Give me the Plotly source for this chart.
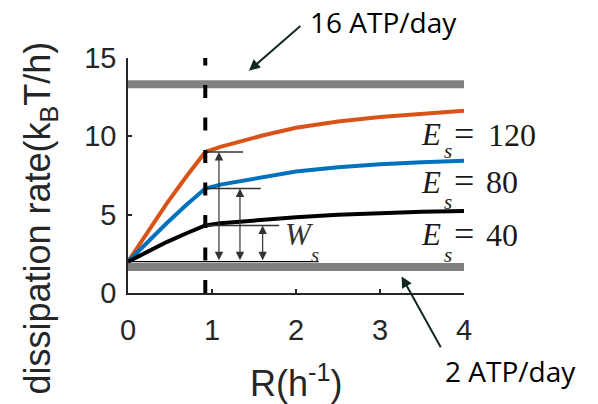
import plotly.graph_objects as go

# Dissipation rate vs. sensing rate R for three values of E_s
R = [0, 0.23, 0.46, 0.69, 0.92, 1.1, 1.33, 1.6, 2.0, 2.5, 3.0, 3.5, 4.0]
rate_E120 = [2.0, 3.9, 5.7, 7.4, 9.0, 9.33, 9.68, 10.05, 10.55, 10.95, 11.24, 11.46, 11.64]
rate_E80 = [2.0, 3.25, 4.45, 5.6, 6.67, 6.92, 7.12, 7.38, 7.75, 8.02, 8.22, 8.34, 8.44]
rate_E40 = [2.0, 2.65, 3.25, 3.8, 4.31, 4.45, 4.56, 4.66, 4.84, 5.0, 5.11, 5.18, 5.23]

KNEE = 4                 # index of the crossover point R*
BASE = 2.0               # dissipation at R = 0
ATP_LOW = 1.667          # 2 ATP/day
ATP_HIGH = 13.33         # 16 ATP/day

x_ticks = [0, 1, 2, 3, 4]
y_ticks = [0, 5, 10, 15]
X_RANGE = [0, 4]
Y_RANGE = [0, 15]

ORANGE = "#D95319"
BLUE = "#0072BD"
GRAY = "#808080"
AX = "#262626"
THIN = "#333333"
ARROW = "#13291f"


def px(x):
    """data x -> paper x"""
    return (x - X_RANGE[0]) / (X_RANGE[1] - X_RANGE[0])


def py(y):
    """data y -> paper y"""
    return (y - Y_RANGE[0]) / (Y_RANGE[1] - Y_RANGE[0])


fig = go.Figure()

# ATP budget levels
for lvl in (ATP_HIGH, ATP_LOW):
    fig.add_trace(go.Scatter(x=[R[0], R[-1]], y=[lvl, lvl], mode="lines",
                             line=dict(color=GRAY, width=8), hoverinfo="skip"))

# baseline reference for W_s
fig.add_trace(go.Scatter(x=[0, 2.27], y=[BASE, BASE], mode="lines",
                         line=dict(color="black", width=1.3), hoverinfo="skip"))

for ys, col in ((rate_E120, ORANGE), (rate_E80, BLUE), (rate_E40, "black")):
    fig.add_trace(go.Scatter(x=R, y=ys, mode="lines",
                             line=dict(color=col, width=4), hoverinfo="skip"))

# horizontal ticks marking each crossover value
for ys, xend in ((rate_E120, 1.37), (rate_E80, 1.58), (rate_E40, 1.80)):
    fig.add_trace(go.Scatter(x=[R[KNEE], xend], y=[ys[KNEE], ys[KNEE]], mode="lines",
                             line=dict(color=THIN, width=1.3), hoverinfo="skip"))

# crossover R*
fig.add_trace(go.Scatter(x=[R[KNEE], R[KNEE]], y=[0, 15], mode="lines",
                         line=dict(color="black", width=4, dash="13px,19.5px"),
                         hoverinfo="skip"))

ann = []
# double-headed arrows for the extra work
for ys, xa in ((rate_E120, 1.083), (rate_E80, 1.333), (rate_E40, 1.603)):
    ann.append(dict(x=xa, y=ys[KNEE], ax=xa, ay=BASE, xref="x", yref="y",
                    axref="x", ayref="y", text="", showarrow=True,
                    arrowhead=2, startarrowhead=2, arrowside="end+start",
                    arrowsize=1.4, startarrowsize=1.4, arrowwidth=1.2,
                    arrowcolor=THIN, standoff=0, startstandoff=0))

# ATP level callouts
ann.append(dict(x=1.44, y=14.19, ax=2.07, ay=17.13, xref="x", yref="y",
                axref="x", ayref="y", text="", showarrow=True, arrowhead=2,
                arrowsize=1.1, arrowwidth=2, arrowcolor=ARROW, standoff=0))
ann.append(dict(x=3.257, y=1.06, ax=3.733, ay=-3.56, xref="x", yref="y",
                axref="x", ayref="y", text="", showarrow=True, arrowhead=2,
                arrowsize=1.1, arrowwidth=2, arrowcolor=ARROW, standoff=0))


def label(x, y, text, family, size, color="black", angle=0):
    return dict(x=px(x), y=py(y), xref="paper", yref="paper", text=text,
                showarrow=False, textangle=angle,
                font=dict(family=family, size=size, color=color),
                xanchor="center", yanchor="middle")


sans = "Open Sans, Noto Sans, sans-serif"
ann.append(label(3.04, 17.29, "16 ATP/day", sans, 28))
ann.append(label(4.548, -4.98, "2 ATP/day", sans, 28))

serif = "Liberation Serif, Times New Roman, serif"
INK = "#1a1a1a"
labels = [("120", 10.106, 9.085, 4.571), ("80", 7.074, 5.83, 4.458),
          ("40", 3.723, 2.447, 4.458)]
for num, ye, ys_, xn in labels:
    ann.append(label(3.607, ye, "<i>E</i>", serif, 31, INK))
    ann.append(label(3.81, ys_, "<i>s</i>", serif, 21, INK))
    ann.append(label(4.0, ye + 0.06, "=", serif, 36, INK))
    ann.append(label(xn, ye, num, serif, 32, INK))

ann.append(label(2.042, 3.723, "<i>W</i>", serif, 31, "#333333"))
ann.append(label(2.232, 2.447, "<i>s</i>", serif, 21, "#333333"))

axfont = "Liberation Sans, Arial, Helvetica, sans-serif"
# axis titles
ann.append(label(-1.048, 4.81, "dissipation rate(k<sub>B</sub>T/h)", axfont, 36,
                 AX, angle=-90))
ann.append(label(2.0, -5.6, "R(h<sup>-1</sup>)", axfont, 36, AX))

fig.update_layout(
    width=598, height=404,
    margin=dict(l=128, r=134, t=58, b=111),
    paper_bgcolor="white", plot_bgcolor="white",
    showlegend=False,
    annotations=ann,
    font=dict(family=axfont, color=AX),
)
fig.update_xaxes(range=X_RANGE, tickvals=x_ticks, showgrid=False, zeroline=False,
                 showline=True, linecolor=AX, linewidth=1.6, ticks="inside",
                 ticklen=4, tickwidth=1.5, tickcolor=AX,
                 tickfont=dict(family=axfont, size=29, color=AX),
                 ticklabelstandoff=10)
fig.update_yaxes(range=Y_RANGE, tickvals=y_ticks, showgrid=False, zeroline=False,
                 showline=True, linecolor=AX, linewidth=1.6, ticks="inside",
                 ticklen=4, tickwidth=1.5, tickcolor=AX,
                 tickfont=dict(family=axfont, size=29, color=AX),
                 ticklabelstandoff=4)

fig.write_html("out.html")
